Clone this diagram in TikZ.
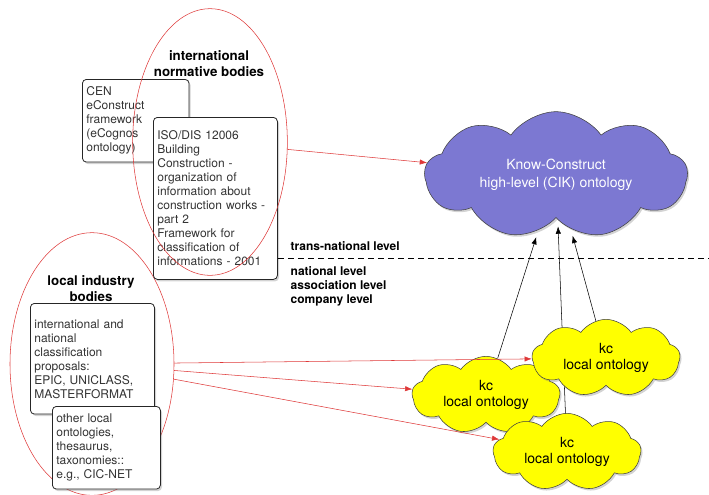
\documentclass[tikz,border=0pt]{standalone}
\usepackage{fontspec}
\setmainfont{TeX Gyre Heros}
\usetikzlibrary{shapes.geometric,shapes.symbols,shadows,arrows.meta}

\definecolor{ovalred}{RGB}{222,56,56}
\definecolor{cikblue}{RGB}{124,120,210}
\definecolor{kcyellow}{RGB}{255,255,0}

\tikzset{
  srcbox/.style={draw=black!85,line width=0.6pt,fill=white,rounded corners=3pt,align=left,anchor=north west,
    inner xsep=3pt,inner ysep=0pt,text=black!80,font=\fontsize{9}{10.5}\selectfont,
    drop shadow={opacity=0.35,shadow xshift=1.2pt,shadow yshift=-1.5pt}},
  group/.style={draw=ovalred,ellipse,inner sep=0pt},
  grouptitle/.style={align=center,font=\fontsize{10}{12}\bfseries\selectfont},
  level/.style={align=left,anchor=west,font=\fontsize{9}{10.5}\bfseries\selectfont},
  onto/.style={cloud,cloud puffs=9,cloud puff arc=110,cloud ignores aspect,draw=black!75,align=center,
    drop shadow={opacity=0.35,shadow xshift=1.2pt,shadow yshift=-1.5pt}},
  kc/.style={onto,fill=kcyellow,minimum width=111pt,minimum height=58pt,
    font=\fontsize{10.5}{12}\selectfont},
  feed/.style={draw=ovalred,-{Latex[length=5.5pt,width=4pt]}},
  lift/.style={draw=black,shorten >=5pt,-{Latex[length=5.5pt,width=4pt]}}
}

\begin{document}
\begin{tikzpicture}[x=0.75pt,y=-0.75pt]
  \useasboundingbox (0,0) rectangle (709,494);

  % local industry bodies
  \node[group,minimum width=123pt,minimum height=197pt] (local) at (92,364) {};
  \node[srcbox,text width=74pt,minimum height=62pt] (cen) at (82,79)
    {CEN\\eConstruct\\framework\\(eCognos\\ontology)};
  \node[srcbox,text width=87pt,minimum height=121.5pt] (iso) at (153,117)
    {ISO/DIS 12006\\Building\\Construction -\\organization of\\information about\\construction works -\\part 2\\Framework for\\classification of\\informations - 2001};
  \node[srcbox,text width=87pt,minimum height=83pt] (prop) at (30,303)
    {international and\\national\\classification\\proposals:\\EPIC, UNICLASS,\\MASTERFORMAT};
  \node[srcbox,text width=75pt,minimum height=62pt] (other) at (52,406)
    {other local\\ontologies,\\thesaurus,\\taxonomies::\\e.g., CIC-NET};

  % international normative bodies
  \node[group,minimum width=116pt,minimum height=200pt] (intl) at (210,142) {};
  \node[grouptitle] (intltitle) at (209,64) {international\\normative bodies};
  \node[grouptitle] (localtitle) at (91,289) {local industry\\bodies};

  % levels
  \coordinate (cutl) at (278,258);
  \coordinate (cutr) at (709,258);
  \draw[dash pattern=on 4.5pt off 3pt] (cutl) -- (cutr);
  \node[level] (trans) at (286,246) {trans-national level};
  \node[level,anchor=north west] (nat) at (286,262)
    {national level\\association level\\company level};

  % ontologies
  \node[onto,fill=cikblue,minimum width=197pt,minimum height=95pt,text=white,
    font=\fontsize{10.5}{13.5}\selectfont] (cik) at (556,175)
    {Know-Construct\\high-level (CIK) ontology};
  \node[kc] (kca) at (486,395) {kc\\local ontology};
  \node[kc] (kcc) at (567,452) {kc\\local ontology};
  \draw[lift] (kcc) -- (cik);
  \node[kc] (kcb) at (606,358) {kc\\local ontology};
  \draw[lift] (kca) -- (cik);
  \draw[lift] (kcb) -- (cik);

  \draw[feed] (intl) -- (cik);
  \draw[feed] (local) -- (kcb);
  \draw[feed] (local) -- (kca);
  \draw[feed] (local) -- (kcc);
\end{tikzpicture}
\end{document}
